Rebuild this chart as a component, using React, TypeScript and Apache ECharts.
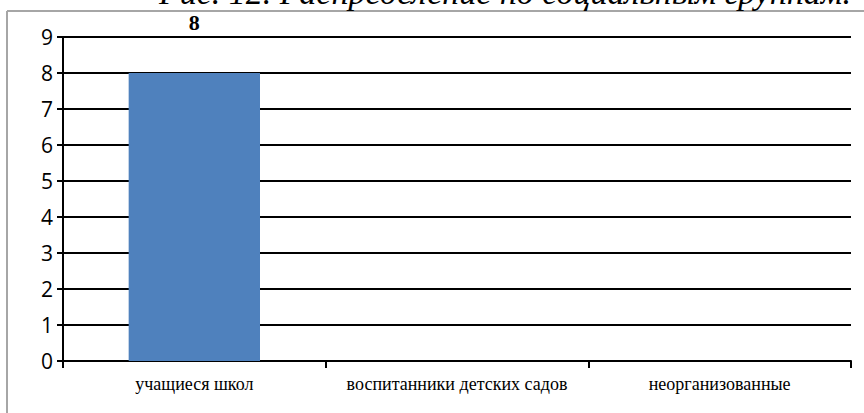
import React, { useEffect, useRef } from "react";
import * as echarts from "echarts";

const categories = ["учащиеся школ", "воспитанники детских садов", "неорганизованные"];
const values = [8, null, null];
const yTicks = [0, 1, 2, 3, 4, 5, 6, 7, 8, 9];
const titleText = "Рис. 12. Распределение по социальным группам.";

export default function App() {
  const ref = useRef<HTMLDivElement>(null);
  useEffect(() => {
    document.body.style.margin = "0";
    const chart = echarts.init(ref.current!, null, { renderer: "svg" });
    chart.setOption({
      animation: false,
      backgroundColor: "#ffffff",
      graphic: [
        {
          type: "line",
          shape: { x1: 7, y1: 11, x2: 864, y2: 11 },
          style: { stroke: "#a6a6a6", lineWidth: 2 },
        },
        {
          type: "line",
          shape: { x1: 7, y1: 11, x2: 7, y2: 413 },
          style: { stroke: "#a6a6a6", lineWidth: 2 },
        },
        {
          type: "text",
          x: 851,
          y: 9,
          style: {
            text: titleText,
            font: "italic 34px 'Liberation Serif', 'DejaVu Serif', serif",
            fill: "#000",
            textAlign: "right",
            textVerticalAlign: "bottom",
          },
        },
      ],
      grid: { left: 63, right: 13, top: 37, bottom: 52, containLabel: false },
      xAxis: {
        type: "category",
        data: categories,
        boundaryGap: true,
        axisLine: { show: true, lineStyle: { color: "#000", width: 2 } },
        axisTick: { show: true, length: 7, alignWithLabel: false, lineStyle: { color: "#000", width: 2 } },
        axisLabel: {
          interval: 0,
          hideOverlap: false,
          margin: 14,
          color: "#000",
          fontFamily: "'Liberation Serif', 'Times New Roman', serif",
          fontSize: 18,
        },
        splitLine: { show: false },
      },
      yAxis: {
        type: "value",
        min: 0,
        max: 9,
        interval: 1,
        axisLine: { show: true, lineStyle: { color: "#000", width: 2 } },
        axisTick: { show: true, length: 6, lineStyle: { color: "#000", width: 2 } },
        axisLabel: {
          margin: 10,
          color: "#000",
          fontFamily: "'Open Sans', 'Noto Sans', sans-serif",
          fontSize: 21,
          formatter: (v: number) => (yTicks.includes(v) ? String(v) : ""),
        },
        splitLine: { show: true, lineStyle: { color: "#000", width: 2 } },
      },
      series: [
        {
          type: "bar",
          data: values,
          barWidth: "50%",
          itemStyle: { color: "#4F81BD" },
          label: {
            show: true,
            position: "top",
            distance: 40,
            color: "#000",
            fontFamily: "'Liberation Serif', 'Times New Roman', serif",
            fontWeight: "bold",
            fontSize: 22,
          },
        },
      ],
    });
    return () => chart.dispose();
  }, []);
  return <div ref={ref} style={{ width: 864, height: 413 }} />;
}
